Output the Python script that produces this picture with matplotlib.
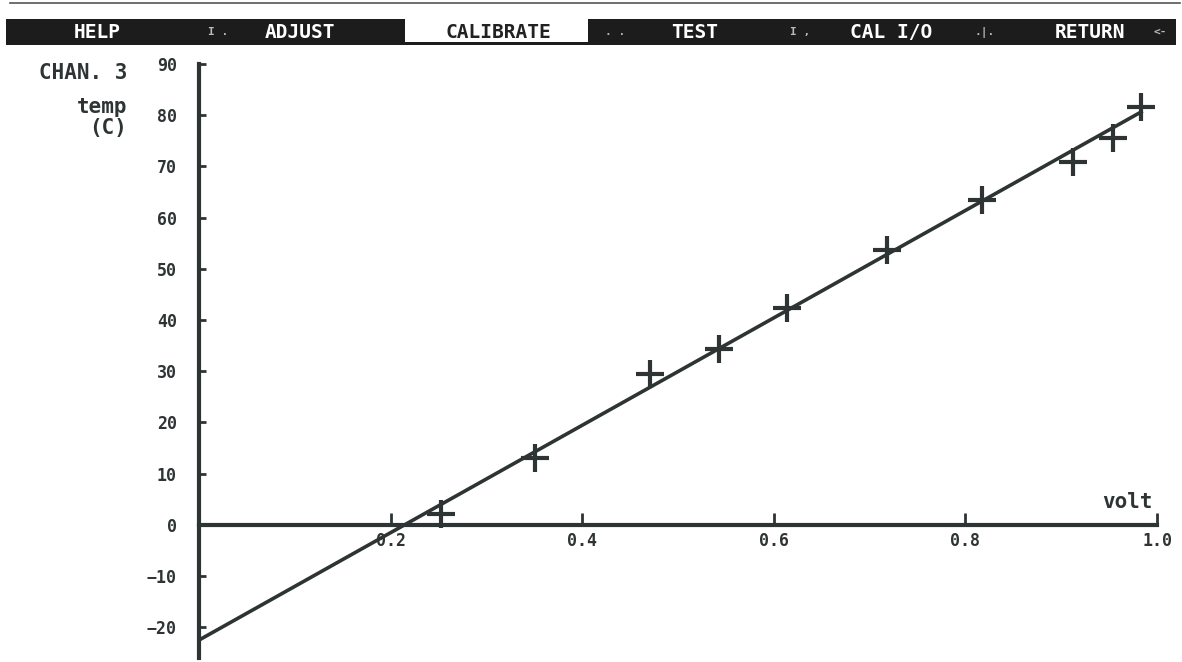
import matplotlib
matplotlib.use("Agg")
import matplotlib.pyplot as plt
from matplotlib.patches import Rectangle
from matplotlib.lines import Line2D
from matplotlib.ticker import FixedLocator, MultipleLocator

# --- data ---
volt = [0.253, 0.351, 0.471, 0.543, 0.614, 0.718, 0.817, 0.912, 0.954, 0.983]
temp = [2.2, 13.1, 29.5, 34.4, 42.3, 53.6, 63.4, 70.8, 75.5, 81.6]
fit_volt = [0.0, 0.985]
fit_temp = [-22.5, 80.8]

x_ticks = [0.2, 0.4, 0.6, 0.8, 1.0]
x_ticklabels = ["0.2", "0.4", "0.6", "0.8", "1.0"]
y_ticks = [-20, -10, 0, 10, 20, 30, 40, 50, 60, 70, 80, 90]

menu_items = ["HELP", "ADJUST", "CALIBRATE", "TEST", "CAL I/O", "RETURN"]
menu_x = [97, 300, 498, 695, 891, 1090]
active_item = "CALIBRATE"

INK = "#2e3434"
FONT = "DejaVu Sans Mono"
W, H = 1182, 662


def fx(px):
    return px / W


def fy(py):
    return 1 - py / H


fig = plt.figure(figsize=(W / 100, H / 100), dpi=100)
fig.patch.set_facecolor("white")

# --- menu bar ---
fig.add_artist(Line2D([fx(10), fx(1180)], [fy(3), fy(3)], color="#555555", lw=1.2))
fig.add_artist(Rectangle((fx(6), fy(45)), fx(1176) - fx(6), fy(19) - fy(45),
                         transform=fig.transFigure, color="#1c1c1c", lw=0))
# highlighted entry box (white with dark underline)
fig.add_artist(Rectangle((fx(405), fy(42)), fx(588) - fx(405), fy(19) - fy(42),
                         transform=fig.transFigure, facecolor="white", lw=0))
for name, px in zip(menu_items, menu_x):
    col = "#222222" if name == active_item else "white"
    fig.text(fx(px), fy(32), name, color=col, fontsize=14, fontweight="bold",
             family=FONT, ha="center", va="center")
# little key hints scattered on the bar
for s, px in [("I .", 218), (". .", 615), ("I ,", 800), (".|.", 985), ("<-", 1160)]:
    fig.text(fx(px), fy(32), s, color="#bbbbbb", fontsize=8, fontweight="bold",
             family=FONT, ha="center", va="center")

# --- plot area ---
ax = fig.add_axes([fx(199), fy(658), fx(1157) - fx(199), fy(64) - fy(658)])
ax.set_xlim(0, 1.0)
ax.set_ylim(-26, 90)

ax.plot(fit_volt, fit_temp, color=INK, lw=2.6, solid_capstyle="butt")
ax.plot(volt, temp, ls="none", marker="+", ms=20, mew=3, color=INK)

for side in ["top", "right"]:
    ax.spines[side].set_visible(False)
ax.spines["bottom"].set_position(("data", 0))
ax.spines["left"].set_bounds(-26, 90)
for side in ["bottom", "left"]:
    ax.spines[side].set_linewidth(3)
    ax.spines[side].set_color(INK)

ax.xaxis.set_major_locator(FixedLocator(x_ticks))
ax.set_xticklabels(x_ticklabels)
ax.xaxis.set_minor_locator(MultipleLocator(0.05))
ax.yaxis.set_major_locator(FixedLocator(y_ticks))
ax.yaxis.set_minor_locator(MultipleLocator(5))

ax.tick_params(axis="x", which="major", direction="in", length=9, width=2,
               color=INK, pad=5, labelsize=12, labelcolor=INK)
ax.tick_params(axis="x", which="minor", direction="inout", length=3, width=1.5, color=INK)
ax.tick_params(axis="y", which="major", direction="in", length=5, width=2,
               color=INK, pad=16, labelsize=12, labelcolor=INK)
ax.tick_params(axis="y", which="minor", direction="inout", length=3, width=1.5, color=INK)
for lab in ax.get_xticklabels() + ax.get_yticklabels():
    lab.set_family(FONT)
    lab.set_fontweight("bold")

ax.text(0.995, 2.5, "volt", color=INK, fontsize=15, fontweight="bold", family=FONT,
        ha="right", va="bottom")

# channel / quantity label at upper left
for s, py in [("CHAN. 3", 73), ("temp", 107), ("(C)", 128)]:
    fig.text(fx(127), fy(py), s, color=INK, fontsize=15, fontweight="bold",
             family=FONT, ha="right", va="center")

fig.savefig("out.png", dpi=100, facecolor="white")
